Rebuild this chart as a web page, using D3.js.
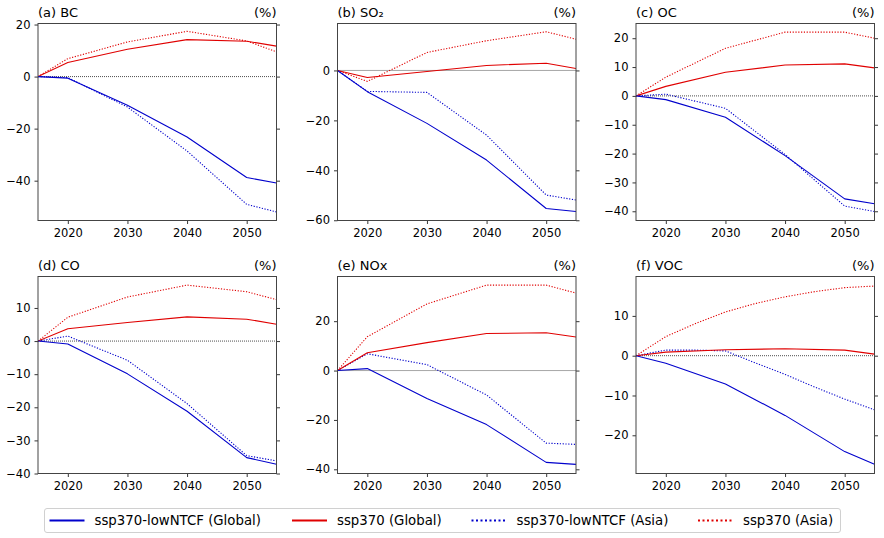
<!DOCTYPE html>
<html>
<head>
<meta charset="utf-8">
<script src="https://cdn.jsdelivr.net/npm/d3@7/dist/d3.min.js"></script>
<style>
  html, body { margin: 0; padding: 0; background: #fff; }
  text { font-family: "DejaVu Sans", sans-serif; fill: #000; }
</style>
</head>
<body>
<svg id="chart" width="884" height="538"></svg>
<script>
// ---------------- data ----------------
const years = [2015, 2020, 2030, 2040, 2050, 2055];
const yearsFine = [2015, 2020, 2025, 2030, 2035, 2040, 2045, 2050, 2055];

const seriesNames = ["ssp370-lowNTCF (Global)", "ssp370 (Global)", "ssp370-lowNTCF (Asia)", "ssp370 (Asia)"];

const panelTitles = ["(a) BC", "(b) SO\u2082", "(c) OC", "(d) CO", "(e) NOx", "(f) VOC"];

// BC
const bcLowGlobal = [0, -0.6, -11.0, -23.2, -38.8, -40.9];
const bcSspGlobal = [0, 5.4, 10.5, 14.2, 13.6, 11.7];
const bcLowAsia   = [0, -0.4, -11.7, -28.6, -49.1, -52.0];
const bcSspAsia   = [0, 6.9, 13.3, 17.4, 13.7, 9.5];
// SO2
const so2LowGlobal = [0, -8.5, -21.2, -35.9, -55.3, -56.5];
const so2SspGlobal = [0, -2.8, -0.4, 2.0, 2.9, 0.8];
const so2LowAsia   = [0, -8.4, -8.8, -25.9, -49.9, -51.9];
const so2SspAsia   = [0, -4.4, 7.2, 11.9, 15.5, 12.5];
// OC
const ocLowGlobal = [0, -1.3, -7.4, -20.7, -35.7, -37.4];
const ocSspGlobal = [0, 3.3, 8.2, 10.7, 11.1, 9.7];
const ocLowAsia   = [0, 0.6, -4.3, -20.3, -38.2, -40.1];
const ocSspAsia   = [0, 6.5, 16.5, 22.1, 22.1, 20.0];
// CO
const coLowGlobal = [0, -0.9, -9.9, -21.2, -35.2, -37.2];
const coSspGlobal = [0, 3.7, 5.6, 7.3, 6.6, 5.1];
const coLowAsia   = [0, 1.5, -5.8, -18.9, -34.6, -36.2];
const coSspAsia   = [0, 7.2, 13.3, 16.9, 14.9, 12.5];
// NOx
const noxLowGlobal = [0, 0.8, -11.3, -21.9, -37.2, -38.0];
const noxSspGlobal = [0, 7.2, 11.3, 15.0, 15.3, 13.6];
const noxLowAsia   = [0, 6.8, 2.4, -9.9, -29.4, -29.9];
const noxSspAsia   = [0, 13.7, 27.0, 34.6, 34.6, 31.4];
// VOC (Asia series read at 5-year points: smooth curves)
const vocLowGlobal = [0, -1.9, -7.1, -15.0, -24.1, -27.3];
const vocSspGlobal = [0, 0.9, 1.5, 1.75, 1.4, 0.4];
const vocLowAsia   = [0, 1.4, 1.4, 1.2, -1.8, -4.7, -7.9, -10.9, -13.6];
const vocSspAsia   = [0, 4.8, 8.1, 11.0, 13.1, 14.8, 16.1, 17.1, 17.5];

// axis ranges and ticks
const yDomains = [[-55.3, 20.4], [-60.1, 18.8], [-43.2, 25.1], [-40.0, 19.5], [-41.7, 38.1], [-29.6, 19.9]];
const yTicks = [[-40, -20, 0, 20], [-60, -40, -20, 0], [-40, -30, -20, -10, 0, 10, 20],
                [-40, -30, -20, -10, 0, 10], [-40, -20, 0, 20], [-20, -10, 0, 10]];
const xTicks = [2020, 2030, 2040, 2050];
const xDomain = [2015, 2055];

// ---------------- build ----------------
const panels = [
  [[years, bcLowGlobal], [years, bcSspGlobal], [years, bcLowAsia], [years, bcSspAsia]],
  [[years, so2LowGlobal], [years, so2SspGlobal], [years, so2LowAsia], [years, so2SspAsia]],
  [[years, ocLowGlobal], [years, ocSspGlobal], [years, ocLowAsia], [years, ocSspAsia]],
  [[years, coLowGlobal], [years, coSspGlobal], [years, coLowAsia], [years, coSspAsia]],
  [[years, noxLowGlobal], [years, noxSspGlobal], [years, noxLowAsia], [years, noxSspAsia]],
  [[years, vocLowGlobal], [years, vocSspGlobal], [yearsFine, vocLowAsia], [yearsFine, vocSspAsia]]
];

const BLUE = "#0000cc", RED = "#e00000";
const styles = [
  { color: BLUE, dash: null },
  { color: RED, dash: null },
  { color: BLUE, dash: "1.2,1.6" },
  { color: RED, dash: "1.2,1.6" }
];

const svg = d3.select("#chart");
const colLeft = [38, 337.5, 636];
const rowTop = [23.5, 276.5];
const W = 238.5, H = 197;

panels.forEach((series, i) => {
  const col = i % 3, row = Math.floor(i / 3);
  const g = svg.append("g").attr("transform", `translate(${colLeft[col]},${rowTop[row]})`);
  const x = d3.scaleLinear().domain(xDomain).range([0, W]);
  const y = d3.scaleLinear().domain(yDomains[i]).range([H, 0]);

  const defsId = "clip" + i;
  svg.append("clipPath").attr("id", defsId).append("rect")
    .attr("x", 0).attr("y", 0).attr("width", W).attr("height", H);

  const plot = g.append("g").attr("clip-path", `url(#${defsId})`);

  // zero line
  plot.append("line")
    .attr("x1", 0).attr("x2", W).attr("y1", y(0)).attr("y2", y(0))
    .attr("stroke", "#000").attr("stroke-width", 0.7).attr("stroke-dasharray", "1,1");

  const line = d3.line().x(d => x(d[0])).y(d => y(d[1]));
  // draw order: asia dotted, then global solid
  [3, 2, 1, 0].forEach(k => {
    const [xs, vs] = series[k];
    const pts = xs.map((yr, j) => [yr, vs[j]]);
    plot.append("path")
      .attr("d", line(pts))
      .attr("fill", "none")
      .attr("stroke", styles[k].color)
      .attr("stroke-width", styles[k].dash ? 1.1 : 1.1)
      .attr("stroke-dasharray", styles[k].dash)
      .attr("stroke-linejoin", "round");
  });

  // axes
  const fmt = d3.format("d");
  const axL = g.append("g").call(d3.axisLeft(y).tickValues(yTicks[i]).tickSize(3.5).tickPadding(4).tickFormat(fmt));
  const axR = g.append("g").attr("transform", `translate(${W},0)`)
    .call(d3.axisRight(y).tickValues(yTicks[i]).tickSize(3.5).tickFormat(""));
  const axB = g.append("g").attr("transform", `translate(0,${H})`)
    .call(d3.axisBottom(x).tickValues(xTicks).tickSize(3.5).tickPadding(5).tickFormat(fmt));
  [axL, axR, axB].forEach(a => {
    a.select(".domain").remove();
    a.selectAll(".tick line").attr("stroke", "#000").attr("stroke-width", 0.8);
    a.selectAll(".tick text").style("font-family", "DejaVu Sans").style("font-size", "11.5px").attr("fill", "#000");
  });

  // frame
  g.append("rect").attr("x", 0).attr("y", 0).attr("width", W).attr("height", H)
    .attr("fill", "none").attr("stroke", "#444").attr("stroke-width", 1);

  // titles
  g.append("text").attr("x", 0).attr("y", -7).style("font-size", "13px").text(panelTitles[i]);
  g.append("text").attr("x", W).attr("y", -7).attr("text-anchor", "end").style("font-size", "13px").text("(%)");
});

// ---------------- legend ----------------
const leg = svg.append("g");
leg.append("rect").attr("x", 44.5).attr("y", 508.5).attr("width", 796).attr("height", 24)
  .attr("rx", 2.5).attr("fill", "#fff").attr("stroke", "#d0d0d0").attr("stroke-width", 1);
const legX = [49.5, 292, 471.5, 698];
seriesNames.forEach((name, k) => {
  const lx = legX[k];
  leg.append("line").attr("x1", lx).attr("x2", lx + 35).attr("y1", 520.5).attr("y2", 520.5)
    .attr("stroke", styles[k].color).attr("stroke-width", 2.2)
    .attr("stroke-dasharray", styles[k].dash ? "2,2.5" : null);
  leg.append("text").attr("x", lx + 45).attr("y", 525.3).style("font-size", "13.3px").text(name);
});
</script>
</body>
</html>
